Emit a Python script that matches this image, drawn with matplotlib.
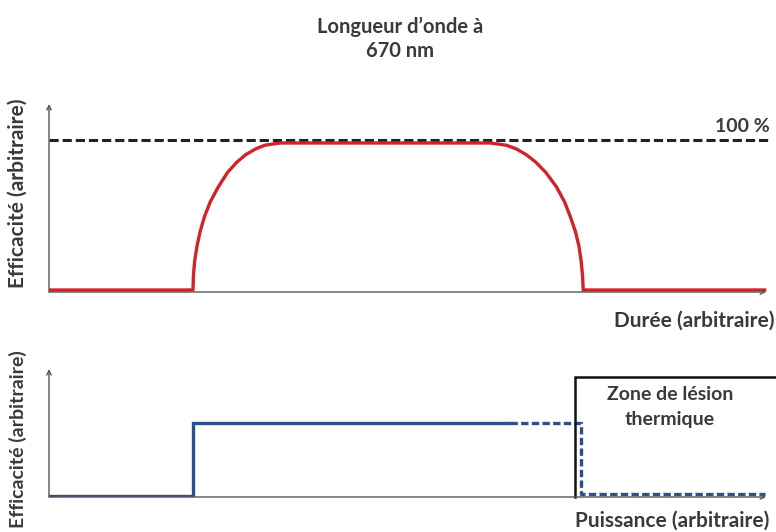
import matplotlib
matplotlib.use("Agg")
import matplotlib.pyplot as plt

plt.rcParams['font.family'] = ['Lato', 'DejaVu Sans']

# Efficiency vs. exposure duration (arbitrary units, 100 = full efficiency)
duree = [0, 20.0, 20.06, 20.24, 20.56, 21.0, 21.6, 22.4, 23.5, 24.8, 26.1, 27.3, 28.7, 30.0, 32.1,
         61.25, 63.5, 64.9, 66.3, 67.6, 69.0, 70.5, 71.6, 72.4, 73.1, 73.6, 73.9, 74.1, 74.2, 99.4]
efficacite_duree = [0, 0, 10, 20, 30, 40, 50, 60, 70, 80, 87, 92, 96, 98.5, 100,
                    100, 98.5, 96, 92, 87, 80, 70, 60, 50, 40, 30, 20, 10, 0, 0]
niveau_max = 102

# Efficiency vs. power: solid below the thermal threshold, dashed beyond it
puissance_plein = [0, 20.0, 20.0, 64.0]
efficacite_plein = [0, 0, 50, 50]
puissance_tirets = [64.0, 73.9, 73.9, 99.4]
efficacite_tirets = [50, 50, 1.2, 1.2]
seuil_lesion = 73.1
haut_zone = 81

ROUGE = '#cf2429'
BLEU = '#2e4f8c'
GRIS = '#555555'
TEXTE = '#3a3a3a'

W, H = 776, 532
fig = plt.figure(figsize=(W / 100, H / 100), dpi=100)

def px_axes(left, right, top, bottom):
    return fig.add_axes([left / W, 1 - bottom / H, (right - left) / W, (bottom - top) / H])

# ---- top panel: efficiency vs duration
ax1 = px_axes(49, 776, 100, 292)
ax1.set_xlim(0, (776 - 49) / 7.2)
ax1.set_ylim((290 - 292) / 1.47, (290 - 100) / 1.47)
ax1.axis('off')
y0 = (290 - 292) / 1.47
arrow = dict(arrowstyle='->', color=GRIS, lw=1.0, shrinkA=0, shrinkB=0, mutation_scale=8)
ax1.annotate('', xy=(0, (290 - 104) / 1.47), xytext=(0, y0), arrowprops=arrow)
ax1.annotate('', xy=(99.6, y0), xytext=(0, y0), arrowprops=arrow)
ax1.plot([0, 99.8], [niveau_max, niveau_max], color='#222222', lw=2.2,
         dashes=(3.0, 1.3), solid_capstyle='butt')
ax1.plot(duree, efficacite_duree, color=ROUGE, lw=2.4, solid_joinstyle='round')

# ---- bottom panel: efficiency vs power
ax2 = px_axes(49, 776, 365, 497)
ax2.set_xlim(0, (776 - 49) / 7.2)
ax2.set_ylim((496 - 497) / 1.47, (496 - 365) / 1.47)
ax2.axis('off')
y0b = (496 - 497) / 1.47
ax2.annotate('', xy=(0, (496 - 369) / 1.47), xytext=(0, y0b), arrowprops=arrow)
ax2.annotate('', xy=(99.6, y0b), xytext=(0, y0b), arrowprops=arrow)
ax2.plot(puissance_plein, efficacite_plein, color=BLEU, lw=2.4, solid_joinstyle='miter')
ax2.plot(puissance_tirets, efficacite_tirets, color=BLEU, lw=2.4, dashes=(2.2, 1.0))
ax2.plot([seuil_lesion, seuil_lesion, 101.5], [y0b, haut_zone, haut_zone],
         color='#111111', lw=1.8, clip_on=False, solid_joinstyle='miter')

# ---- text
kw = dict(fontweight='bold', color=TEXTE)
fig.text(400 / W, 1 - 39 / H, "Longueur d\u2019onde \u00e0\n670 nm", ha='center', va='center',
         fontsize=14.5, linespacing=1.25, **kw)
fig.text(770 / W, 1 - 126 / H, "100 %", ha='right', va='center', fontsize=14, **kw)
fig.text(775 / W, 1 - 321 / H, "Dur\u00e9e (arbitraire)", ha='right', va='center', fontsize=15, **kw)
fig.text(769 / W, 1 - 521 / H, "Puissance (arbitraire)", ha='right', va='center', fontsize=15, **kw)
fig.text(18 / W, 1 - 193 / H, "Efficacit\u00e9 (arbitraire)", ha='center', va='center',
         rotation=90, fontsize=15, **kw)
fig.text(18 / W, 1 - 439 / H, "Efficacit\u00e9 (arbitraire)", ha='center', va='center',
         rotation=90, fontsize=14, **kw)
fig.text(670 / W, 1 - 407 / H, "Zone de l\u00e9sion\nthermique", ha='center', va='center',
         fontsize=14, linespacing=1.55, **kw)

fig.savefig('out.png', dpi=100)
